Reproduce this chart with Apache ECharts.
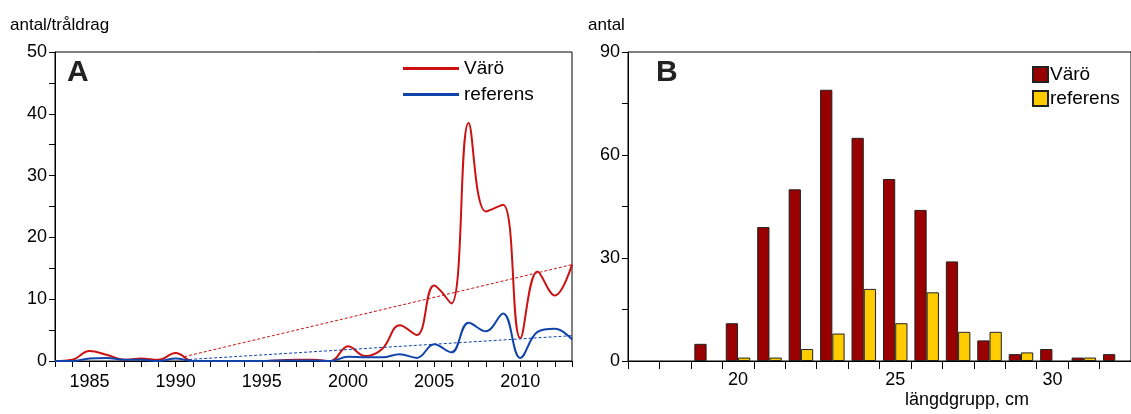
<!DOCTYPE html><html><head><meta charset="utf-8"><script src="https://cdn.jsdelivr.net/npm/echarts@6/dist/echarts.min.js"></script>
<style>body{margin:0}#c{width:1131px;height:414px}</style></head><body><div id="c"></div><script>
const years=[];for(let y=1983;y<=2013;y++)years.push(y);
const varoA=[0,0.2,1.6,1.0,0.2,0.4,0.2,1.3,0,0,0,0,0,0.1,0.2,0.2,0,2.4,0.8,2,5.8,4.2,12.2,9.3,38.5,24.2,25.3,3.7,14.5,10.6,15.6];
const refA=[0,0,0.4,0.5,0.2,0.2,0,0.4,0,0,0,0,0,0.1,0.1,0.1,0,0.7,0.6,0.6,1.1,0.5,2.7,1.4,6.2,4.8,7.7,0.5,4.7,5.2,3.5];
const trendVaro=[[1990.5,0.7],[2013,15.6]];
const trendRef=[[1990.5,0.2],[2013,4.1]];
const lengths=[17,18,19,20,21,22,23,24,25,26,27,28,29,30,31,32];
const varoB=[null,null,5,11,39,50,79,65,53,44,29,6,2,3.5,1,2];
const refB=[null,null,null,1,1,3.5,8,21,11,20,8.5,8.5,2.5,null,1,null];
const F='Liberation Sans, Arial, sans-serif';
const ch=echarts.init(document.getElementById('c'));
const ax={axisLine:{show:true,lineStyle:{color:'#000'}},axisTick:{show:true,lineStyle:{color:'#000'},length:6},axisLabel:{color:'#000',fontSize:18,fontFamily:F},splitLine:{show:false}};
ch.setOption({animation:false,
grid:[{left:55,top:52,width:517,height:309,show:true,borderColor:'#000',borderWidth:1},{left:628,top:52,width:515,height:309,show:true,borderColor:'#000',borderWidth:1}],
graphic:[
{type:'text',left:10,top:17,style:{text:'antal/tråldrag',font:'17px '+F,fill:'#000'}},
{type:'text',left:67,top:58,style:{text:'A',font:'bold 30px '+F,fill:'#222'}},
{type:'text',left:588,top:17,style:{text:'antal',font:'17px '+F,fill:'#000'}},
{type:'text',left:656,top:58,style:{text:'B',font:'bold 30px '+F,fill:'#222'}},
{type:'text',left:905,top:391,style:{text:'längdgrupp, cm',font:'18px '+F,fill:'#000'}}],
legend:[{left:398,top:54,orient:'vertical',itemWidth:56,itemHeight:3,itemGap:7,icon:'rect',textStyle:{fontSize:19,fontFamily:F,color:'#000'},data:['Värö','referens']},
{left:1027,top:60,orient:'vertical',itemWidth:15,itemHeight:15,itemGap:5,icon:'rect',textStyle:{fontSize:19,fontFamily:F,color:'#000',padding:[0,0,0,-3]},data:['Värö B','referens B'],formatter:n=>n.replace(' B','')}],
xAxis:[Object.assign({},ax,{type:'value',gridIndex:0,min:1983,max:2013,interval:1,axisLabel:Object.assign({},ax.axisLabel,{margin:12,formatter:v=>v%5===0?String(v):''})}),
Object.assign({},ax,{type:'category',gridIndex:1,data:lengths,axisTick:{show:true,alignWithLabel:false,lineStyle:{color:'#000'},length:8,interval:0},axisLabel:Object.assign({},ax.axisLabel,{margin:10,interval:0,formatter:v=>v%5===0?v:''})})],
yAxis:[Object.assign({},ax,{type:'value',gridIndex:0,min:0,max:50,interval:10,minorTick:{show:true,splitNumber:2,length:6,lineStyle:{color:'#000'}}}),
Object.assign({},ax,{type:'value',gridIndex:1,min:0,max:90,interval:30,minorTick:{show:true,splitNumber:2,length:6,lineStyle:{color:'#000'}}})],
series:[
{name:'Värö',type:'line',xAxisIndex:0,yAxisIndex:0,smooth:0.4,showSymbol:false,data:years.map((y,i)=>[y,varoA[i]]),lineStyle:{color:'#cc1111',width:2},itemStyle:{color:'#cc1111'}},
{name:'referens',type:'line',xAxisIndex:0,yAxisIndex:0,smooth:0.4,showSymbol:false,data:years.map((y,i)=>[y,refA[i]]),lineStyle:{color:'#1144aa',width:2},itemStyle:{color:'#1144aa'}},
{type:'line',xAxisIndex:0,yAxisIndex:0,showSymbol:false,data:trendVaro,lineStyle:{color:'#cc1111',width:1,type:[3,2]}},
{type:'line',xAxisIndex:0,yAxisIndex:0,showSymbol:false,data:trendRef,lineStyle:{color:'#1144aa',width:1,type:[3,2]}},
{name:'Värö B',type:'bar',xAxisIndex:1,yAxisIndex:1,data:varoB,barGap:'0%',barCategoryGap:'22%',itemStyle:{color:'#990000',borderColor:'#222',borderWidth:1}},
{name:'referens B',type:'bar',xAxisIndex:1,yAxisIndex:1,data:refB,itemStyle:{color:'#ffcc00',borderColor:'#222',borderWidth:1}}
]});
</script></body></html>
